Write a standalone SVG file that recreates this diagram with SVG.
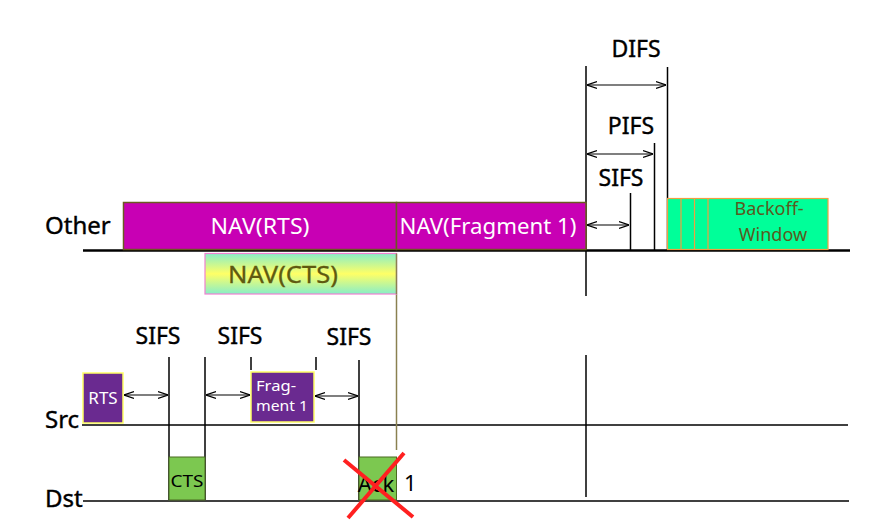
<svg xmlns="http://www.w3.org/2000/svg" width="890" height="526" viewBox="0 0 890 526">
<style>
text{font-family:"Noto Sans","Open Sans","DejaVu Sans",sans-serif}
.lbl{font-size:23px;fill:#000;stroke:#000;stroke-width:0.4;text-anchor:middle}
.side{font-size:24px;fill:#000;stroke:#000;stroke-width:0.4}
.ln{stroke:#000;stroke-width:1.5;fill:none}
.arr{stroke:#000;stroke-width:1.2;fill:none;marker-start:url(#ah);marker-end:url(#ah)}
.nav{fill:#C800B4;stroke:#6B5A20;stroke-width:1.5}
.navt{font-size:22px;fill:#fff;text-anchor:middle}
.pur{fill:#6A2A90;stroke:#FFFF66;stroke-width:1.5}
.grn{fill:#7CC850;stroke:#4A6A20;stroke-width:1}
</style>
<defs>
<marker id="ah" viewBox="0 0 10 10" refX="10" refY="5" markerWidth="10" markerHeight="10" markerUnits="userSpaceOnUse" orient="auto-start-reverse">
<path d="M0,1.5 L10,5 L0,8.5" fill="none" stroke="#000" stroke-width="1.3"/>
</marker>
<linearGradient id="cts" x1="0" y1="0" x2="0" y2="1">
<stop offset="0" stop-color="#88EEC8"/>
<stop offset="0.5" stop-color="#FFFF66"/>
<stop offset="1" stop-color="#88EEC8"/>
</linearGradient>
</defs>

<g id="axes">
<line x1="83" y1="250.5" x2="850" y2="250.5" stroke="#000" stroke-width="2.5"/>
<line x1="82" y1="425" x2="848" y2="425" class="ln"/>
<line x1="83" y1="501" x2="849" y2="501" class="ln"/>
<text x="45" y="234" class="side">Other</text>
<text x="45" y="428" class="side">Src</text>
<text x="45" y="507" class="side">Dst</text>
</g>

<g id="connectors">
<line x1="586" y1="66" x2="586" y2="296" class="ln"/>
<line x1="586" y1="355" x2="586" y2="497" class="ln"/>
<line x1="667.5" y1="67" x2="667.5" y2="250" class="ln"/>
<line x1="654.5" y1="143" x2="654.5" y2="250" class="ln"/>
<line x1="630.5" y1="193" x2="630.5" y2="250" class="ln"/>
<line x1="587" y1="85" x2="666" y2="85" class="arr"/>
<line x1="587" y1="154" x2="653" y2="154" class="arr"/>
<line x1="587" y1="225" x2="629" y2="225" class="arr"/>
<line x1="396.5" y1="294" x2="396.5" y2="450" stroke="#8A8050" stroke-width="1.5"/>
<line x1="169" y1="357" x2="169" y2="500" class="ln"/>
<line x1="205" y1="357" x2="205" y2="500" class="ln"/>
<line x1="251" y1="357" x2="251" y2="370" class="ln"/>
<line x1="316" y1="357" x2="316" y2="370" class="ln"/>
<line x1="359" y1="360" x2="359" y2="500" class="ln"/>
<line x1="124" y1="395" x2="168" y2="395" class="arr"/>
<line x1="206" y1="395" x2="250" y2="395" class="arr"/>
<line x1="315" y1="396" x2="358" y2="396" class="arr"/>
</g>

<g id="labels">
<text x="636" y="57" class="lbl">DIFS</text>
<text x="631" y="134" class="lbl">PIFS</text>
<text x="621" y="186" class="lbl">SIFS</text>
<text x="158" y="344" class="lbl">SIFS</text>
<text x="240" y="344" class="lbl">SIFS</text>
<text x="349" y="345" class="lbl">SIFS</text>
</g>

<g id="nav-rts">
<rect x="123.5" y="202.5" width="273" height="47" class="nav"/>
<text x="260" y="234" class="navt" textLength="99" lengthAdjust="spacingAndGlyphs">NAV(RTS)</text>
</g>
<g id="nav-frag">
<rect x="396.5" y="202.5" width="189.5" height="47" class="nav"/>
<text x="488" y="234" class="navt" textLength="177" lengthAdjust="spacingAndGlyphs">NAV(Fragment 1)</text>
</g>
<g id="nav-cts">
<rect x="205" y="253.5" width="191.5" height="40.5" fill="url(#cts)" stroke="#F080D0" stroke-width="1.2"/>
<line x1="396.5" y1="253.5" x2="396.5" y2="294" stroke="#8A8050" stroke-width="1.5"/>
<text x="283" y="283" font-size="24" fill="#5F5A10" stroke="#5F5A10" stroke-width="0.3" text-anchor="middle" textLength="110" lengthAdjust="spacingAndGlyphs">NAV(CTS)</text>
</g>
<g id="backoff">
<rect x="667.5" y="198.5" width="160.5" height="51" fill="#00FF99" stroke="#F0A040" stroke-width="1.2"/>
<line x1="681" y1="198.5" x2="681" y2="250" stroke="#F0A040" stroke-width="1.2"/>
<line x1="694.5" y1="198.5" x2="694.5" y2="250" stroke="#F0A040" stroke-width="1.2"/>
<line x1="708" y1="198.5" x2="708" y2="250" stroke="#F0A040" stroke-width="1.2"/>
<text x="769" y="215" font-size="18" fill="#5A5A20" text-anchor="middle">Backoff-</text>
<text x="773" y="241" font-size="18" fill="#5A5A20" text-anchor="middle">Window</text>
</g>
<g id="rts">
<rect x="83" y="373" width="40" height="50" class="pur"/>
<text x="103" y="404" font-size="17" fill="#fff" text-anchor="middle">RTS</text>
</g>
<g id="cts">
<rect x="169" y="457" width="36" height="43" class="grn"/>
<text x="187" y="487" font-size="16" fill="#000" text-anchor="middle" textLength="33" lengthAdjust="spacingAndGlyphs">CTS</text>
</g>
<g id="fragment1">
<rect x="251" y="372" width="63" height="50" class="pur"/>
<text x="256" y="391" font-size="14" fill="#fff" textLength="40" lengthAdjust="spacingAndGlyphs">Frag-</text>
<text x="256" y="411" font-size="14" fill="#fff" textLength="52" lengthAdjust="spacingAndGlyphs">ment 1</text>
</g>
<g id="ack1">
<rect x="359" y="457" width="37.5" height="43" class="grn"/>
<text x="376" y="492" font-size="22" fill="#000" text-anchor="middle">Ack</text>
<text x="404" y="491" font-size="22" fill="#000">1</text>
<line x1="344" y1="460" x2="413" y2="517" stroke="#FF2020" stroke-width="4"/>
<line x1="404" y1="453" x2="348" y2="518" stroke="#FF2020" stroke-width="4"/>
</g>
</svg>
